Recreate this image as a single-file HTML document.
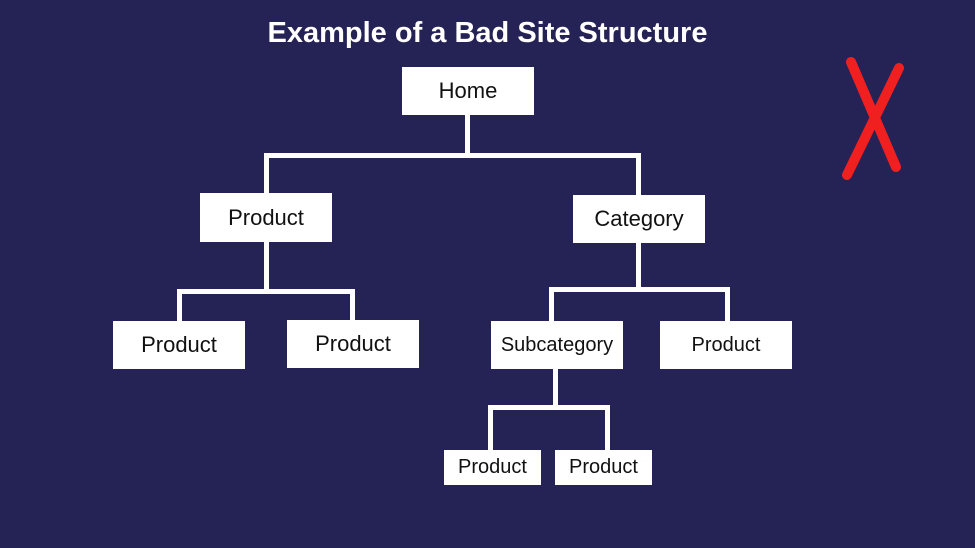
<!DOCTYPE html>
<html><head><style>
body{margin:0;width:975px;height:548px;background:#252256;overflow:hidden;position:relative;font-family:"Liberation Sans",sans-serif}
.b{position:absolute;background:#fff;color:#111;display:flex;align-items:center;justify-content:center;font-size:22px}
.l{position:absolute;background:#fff}
h1{position:absolute;top:17px;left:0;width:975px;text-align:center;margin:0;color:#fff;font-size:29px;font-weight:bold}
</style></head><body>
<h1>Example of a Bad Site Structure</h1>
<div class="l" style="left:465px;top:115px;width:5px;height:41px"></div>
<div class="l" style="left:264px;top:153px;width:377px;height:5px"></div>
<div class="l" style="left:264px;top:153px;width:5px;height:42px"></div>
<div class="l" style="left:636px;top:153px;width:5px;height:44px"></div>
<div class="l" style="left:264px;top:242px;width:5px;height:50px"></div>
<div class="l" style="left:177px;top:289px;width:178px;height:5px"></div>
<div class="l" style="left:177px;top:289px;width:5px;height:33px"></div>
<div class="l" style="left:350px;top:289px;width:5px;height:33px"></div>
<div class="l" style="left:636px;top:243px;width:5px;height:47px"></div>
<div class="l" style="left:549px;top:287px;width:181px;height:5px"></div>
<div class="l" style="left:549px;top:287px;width:5px;height:35px"></div>
<div class="l" style="left:725px;top:287px;width:5px;height:35px"></div>
<div class="l" style="left:553px;top:369px;width:5px;height:40px"></div>
<div class="l" style="left:488px;top:405px;width:122px;height:5px"></div>
<div class="l" style="left:488px;top:405px;width:5px;height:46px"></div>
<div class="l" style="left:605px;top:405px;width:5px;height:46px"></div>
<div class="b" style="left:402px;top:67px;width:132px;height:48px">Home</div>
<div class="b" style="left:200px;top:193px;width:132px;height:49px">Product</div>
<div class="b" style="left:573px;top:195px;width:132px;height:48px">Category</div>
<div class="b" style="left:113px;top:321px;width:132px;height:48px">Product</div>
<div class="b" style="left:287px;top:320px;width:132px;height:48px">Product</div>
<div class="b" style="left:491px;top:321px;width:132px;height:48px;font-size:20px">Subcategory</div>
<div class="b" style="left:660px;top:321px;width:132px;height:48px;font-size:20px">Product</div>
<div class="b" style="left:444px;top:450px;width:97px;height:35px;font-size:20px">Product</div>
<div class="b" style="left:555px;top:450px;width:97px;height:35px;font-size:20px">Product</div>
<svg style="position:absolute;left:0;top:0" width="975" height="548">
<line x1="851" y1="62" x2="896" y2="167" stroke="#f02020" stroke-width="10" stroke-linecap="round"/>
<line x1="899" y1="68" x2="847" y2="175" stroke="#f02020" stroke-width="10" stroke-linecap="round"/>
</svg>
</body></html>
